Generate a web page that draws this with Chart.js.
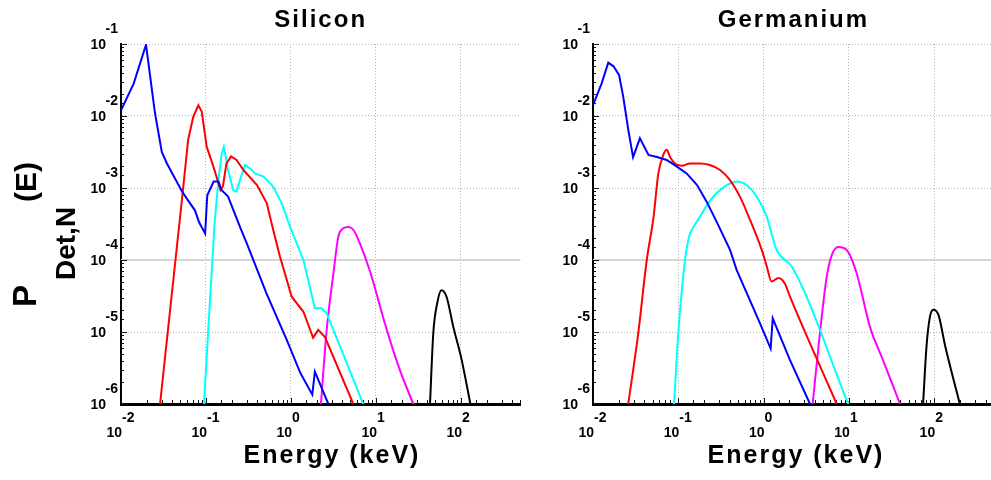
<!DOCTYPE html>
<html>
<head>
<meta charset="utf-8">
<script src="https://cdn.jsdelivr.net/npm/chart.js@4.4.1/dist/chart.umd.min.js"></script>
<style>
  html, body { margin: 0; padding: 0; background: #fff; overflow: hidden; width: 991px; height: 480px; }
  #si { position: absolute; left: 0; top: 0; }
  #ge { position: absolute; left: 540px; top: 0; }
</style>
</head>
<body>
<canvas id="si" width="540" height="480"></canvas>
<canvas id="ge" width="460" height="480"></canvas>
<script>
// Axis decades used for gridlines and the 10^n tick labels
const xDecades = [-2, -1, 0, 1, 2];
const yDecades = [-6, -5, -4, -3, -2, -1];

// ---- Silicon detector: energy (keV) and probability per curve ----
const siBlueE = [0.01, 0.0141, 0.0197, 0.0251, 0.0302, 0.0347, 0.0513, 0.0589, 0.0741, 0.0832, 0.0977, 0.1035, 0.123, 0.140, 0.153, 0.182, 0.251, 0.302, 0.513, 0.891, 1.29, 1.78, 1.91, 2.75];
const siBlueP = [0.012, 0.0282, 0.0977, 0.011, 0.00316, 0.00219, 9.33e-4, 7.24e-4, 4.90e-4, 3.31e-4, 2.34e-4, 7.94e-4, 1.23e-3, 1.23e-3, 9.33e-4, 7.59e-4, 2.88e-4, 1.70e-4, 3.47e-5, 7.76e-6, 2.69e-6, 1.35e-6, 2.82e-6, 1.0e-6];

const siRedE = [0.0288, 0.0531, 0.0617, 0.0708, 0.0813, 0.0891, 0.102, 0.122, 0.140, 0.148, 0.158, 0.174, 0.197, 0.229, 0.275, 0.398, 0.518, 0.617, 0.741, 1.02, 1.40, 1.82, 2.09, 2.51, 5.41];
const siRedP = [1e-6, 8.51e-4, 4.68e-3, 9.77e-3, 0.0141, 0.0115, 3.72e-3, 2.0e-3, 1.17e-3, 9.33e-4, 1.05e-3, 2.19e-3, 2.75e-3, 2.45e-3, 1.78e-3, 1.10e-3, 6.17e-4, 2.63e-4, 1.12e-4, 3.09e-5, 1.91e-5, 8.3e-6, 1.07e-5, 8.5e-6, 1e-6];

const siCyanE = [0.0946, 0.106, 0.126, 0.140, 0.153, 0.162, 0.182, 0.209, 0.229, 0.251, 0.288, 0.331, 0.380, 0.472, 0.617, 0.776, 0.977, 1.40, 1.91, 2.29, 2.63, 7.08];
const siCyanP = [1e-6, 1e-5, 3.16e-4, 1.29e-3, 3.02e-3, 3.72e-3, 1.78e-3, 9.33e-4, 8.91e-4, 1.29e-3, 2.09e-3, 1.86e-3, 1.58e-3, 1.45e-3, 1.05e-3, 6.17e-4, 2.88e-4, 1.0e-4, 2.14e-5, 2.14e-5, 1.82e-5, 1e-6];

const siMagE = [2.25, 2.63, 3.16, 3.60, 4.12, 4.72, 5.41, 6.46, 8.51, 13.4, 19.1, 27.5];
const siMagP = [1e-6, 1.07e-5, 6.61e-5, 2.09e-4, 2.75e-4, 2.88e-4, 2.63e-4, 1.70e-4, 6.92e-5, 1.07e-5, 2.95e-6, 1e-6];

const siBlkE = [43.2, 47.2, 52.5, 58.9, 67.6, 81.3, 102, 129];
const siBlkP = [1e-6, 9.55e-6, 2.51e-5, 3.80e-5, 3.09e-5, 1.17e-5, 4.07e-6, 1e-6];

// ---- Germanium detector ----
const geBlueE = [0.01, 0.0126, 0.0151, 0.0174, 0.0202, 0.0226, 0.0259, 0.0295, 0.0355, 0.0447, 0.0562, 0.0731, 0.0955, 0.126, 0.166, 0.215, 0.282, 0.404, 0.484, 0.908, 1.21, 1.28, 2.04, 3.50];
const geBlueP = [0.0141, 0.0282, 0.0550, 0.0490, 0.0372, 0.0186, 6.46e-3, 2.69e-3, 4.90e-3, 2.88e-3, 2.69e-3, 2.45e-3, 2.0e-3, 1.58e-3, 1.10e-3, 6.46e-4, 3.39e-4, 1.38e-4, 7.24e-5, 1.32e-5, 5.89e-6, 1.55e-5, 4.07e-6, 1e-6];

const geRedE = [0.0259, 0.0339, 0.0427, 0.0513, 0.0583, 0.0667, 0.0731, 0.0800, 0.0912, 0.110, 0.138, 0.179, 0.234, 0.309, 0.404, 0.528, 0.692, 0.951, 1.09, 1.24, 1.49, 1.78, 2.04, 7.19];
const geRedP = [1e-6, 9.55e-6, 1e-4, 3.98e-4, 1.58e-3, 2.88e-3, 3.39e-3, 2.69e-3, 2.19e-3, 2.04e-3, 2.19e-3, 2.19e-3, 2.09e-3, 1.78e-3, 1.29e-3, 7.59e-4, 3.63e-4, 1.38e-4, 8.13e-5, 5.01e-5, 5.62e-5, 4.68e-5, 3.09e-5, 1e-6];

const geCyanE = [0.0891, 0.1, 0.120, 0.135, 0.151, 0.179, 0.225, 0.282, 0.372, 0.484, 0.631, 0.832, 1.09, 1.42, 1.70, 2.14, 9.84];
const geCyanP = [1e-6, 9.55e-6, 1e-4, 2.19e-4, 2.88e-4, 3.98e-4, 6.17e-4, 8.51e-4, 1.10e-3, 1.23e-3, 1.10e-3, 7.59e-4, 3.98e-4, 1.38e-4, 1.05e-4, 8.13e-5, 1e-6];

const geMagE = [3.76, 4.57, 5.50, 6.31, 7.52, 9.42, 12.3, 17.7, 25.1, 39.8];
const geMagP = [1e-6, 9.55e-6, 5.89e-5, 1.17e-4, 1.51e-4, 1.38e-4, 6.61e-5, 1.17e-5, 4.07e-6, 1e-6];

const geBlkE = [74.1, 81.3, 89.1, 97.7, 112, 135, 200];
const geBlkP = [1e-6, 6.31e-6, 1.62e-5, 2.04e-5, 1.74e-5, 6.31e-6, 1e-6];

const lineColors = ['#0000ff', '#ff0000', '#00ffff', '#ff00ff', '#000000'];

function series(E, P, color, smooth) {
  const ds = {
    data: E.map((e, i) => ({ x: e, y: P[i] })),
    borderColor: color,
    borderWidth: 2,
    pointRadius: 0,
    fill: false,
    tension: 0
  };
  if (smooth) ds.cubicInterpolationMode = 'monotone';
  return ds;
}

const isDecade = v => Math.abs(Math.log10(v) - Math.round(Math.log10(v))) < 1e-6;

const FONT = '"Liberation Sans", Arial, Helvetica, sans-serif';

// Gridline at 1e-4, inward tick marks, and all text drawn around the axes
const decorations = {
  id: 'decorations',
  beforeDatasetsDraw(chart, args, opts) {
    const { ctx, chartArea: a, scales: { x, y } } = chart;
    ctx.save();
    const p4 = Math.round(y.getPixelForValue(1e-4));
    ctx.strokeStyle = '#d6d6d6';
    ctx.lineWidth = 2;
    ctx.beginPath();
    ctx.moveTo(a.left, p4);
    ctx.lineTo(a.right, p4);
    ctx.stroke();

    ctx.strokeStyle = '#111';
    ctx.lineWidth = 1;
    ctx.beginPath();
    x.ticks.forEach(t => {
      const px = Math.round(x.getPixelForValue(t.value)) + 0.5;
      const len = isDecade(t.value) ? 6 : 4;
      ctx.moveTo(px, a.bottom);
      ctx.lineTo(px, a.bottom - len);
    });
    y.ticks.forEach(t => {
      const py = Math.round(y.getPixelForValue(t.value)) + 0.5;
      const len = isDecade(t.value) ? 6 : 3;
      ctx.moveTo(a.left, py);
      ctx.lineTo(a.left + len, py);
    });
    ctx.stroke();
    ctx.restore();
  },
  afterDraw(chart, args, opts) {
    const { ctx, chartArea: a, scales: { x, y } } = chart;
    ctx.save();
    ctx.fillStyle = '#000';

    // tick labels 10^n
    ctx.font = 'bold 14px ' + FONT;
    ctx.textBaseline = 'middle';
    xDecades.forEach(d => {
      const px = x.getPixelForValue(Math.pow(10, d));
      ctx.textAlign = 'right';
      ctx.fillText('10', px + 1, a.bottom + 29);
      ctx.textAlign = 'left';
      ctx.fillText(String(d), px + 1, a.bottom + 14);
    });
    yDecades.forEach(d => {
      const py = y.getPixelForValue(Math.pow(10, d));
      ctx.textAlign = 'right';
      ctx.fillText('10', a.left - 15, py + 1);
      ctx.fillText(String(d), a.left - 3, py - 15);
    });

    // panel title
    ctx.letterSpacing = '2px';
    ctx.textAlign = 'center';
    ctx.textBaseline = 'alphabetic';
    ctx.font = 'bold 24px ' + FONT;
    ctx.fillText(opts.title, (a.left + a.right) / 2, 27);

    // x axis title
    ctx.font = 'bold 25px ' + FONT;
    ctx.fillText('Energy (keV)', opts.xTitleCenter, 463);
    ctx.letterSpacing = '0px';

    // y axis title P_Det,N(E)
    if (opts.yTitle) {
      ctx.textAlign = 'left';
      const parts = [
        { t: 'P', size: 33, bx: 36, start: 307 },
        { t: 'Det,N', size: 28, bx: 75, start: 280 },
        { t: '(E)', size: 30, bx: 36, start: 202 }
      ];
      parts.forEach(p => {
        ctx.save();
        ctx.translate(p.bx, p.start);
        ctx.rotate(-Math.PI / 2);
        ctx.font = 'bold ' + p.size + 'px ' + FONT;
        ctx.fillText(p.t, 0, 0);
        ctx.restore();
      });
    }
    ctx.restore();
  }
};

function makeChart(id, sets, padding, opts) {
  const datasets = sets.map((s, i) => series(s[0], s[1], lineColors[i], s[2]));
  return new Chart(document.getElementById(id), {
    type: 'line',
    data: { datasets },
    plugins: [decorations],
    options: {
      responsive: false,
      animation: false,
      devicePixelRatio: 1,
      layout: { padding },
      plugins: {
        legend: { display: false },
        tooltip: { enabled: false },
        decorations: opts
      },
      scales: {
        x: {
          type: 'logarithmic',
          min: 0.01,
          max: 500,
          ticks: { display: false },
          grid: {
            drawTicks: false,
            color: c => (c.tick && isDecade(c.tick.value)) ? '#b4b4b4' : 'rgba(0,0,0,0)',
            lineWidth: 1
          },
          border: { display: true, color: '#000', width: 3, dash: [1, 2] }
        },
        y: {
          type: 'logarithmic',
          min: 1e-6,
          max: 0.1,
          ticks: { display: false },
          grid: {
            drawTicks: false,
            color: c => (c.tick && isDecade(c.tick.value)) ? '#b4b4b4' : 'rgba(0,0,0,0)',
            lineWidth: 1
          },
          border: { display: true, color: '#000', width: 2, dash: [1, 2] }
        }
      }
    }
  });
}

makeChart('si',
  [[siBlueE, siBlueP, false], [siRedE, siRedP, false], [siCyanE, siCyanP, false], [siMagE, siMagP, true], [siBlkE, siBlkP, true]],
  { left: 121, right: 19.6, top: 44, bottom: 76 },
  { title: 'Silicon', xTitleCenter: 332, yTitle: true });

makeChart('ge',
  [[geBlueE, geBlueP, false], [geRedE, geRedP, true], [geCyanE, geCyanP, true], [geMagE, geMagP, true], [geBlkE, geBlkP, true]],
  { left: 53, right: 6.2, top: 44, bottom: 76 },
  { title: 'Germanium', xTitleCenter: 256, yTitle: false });
</script>
</body>
</html>
